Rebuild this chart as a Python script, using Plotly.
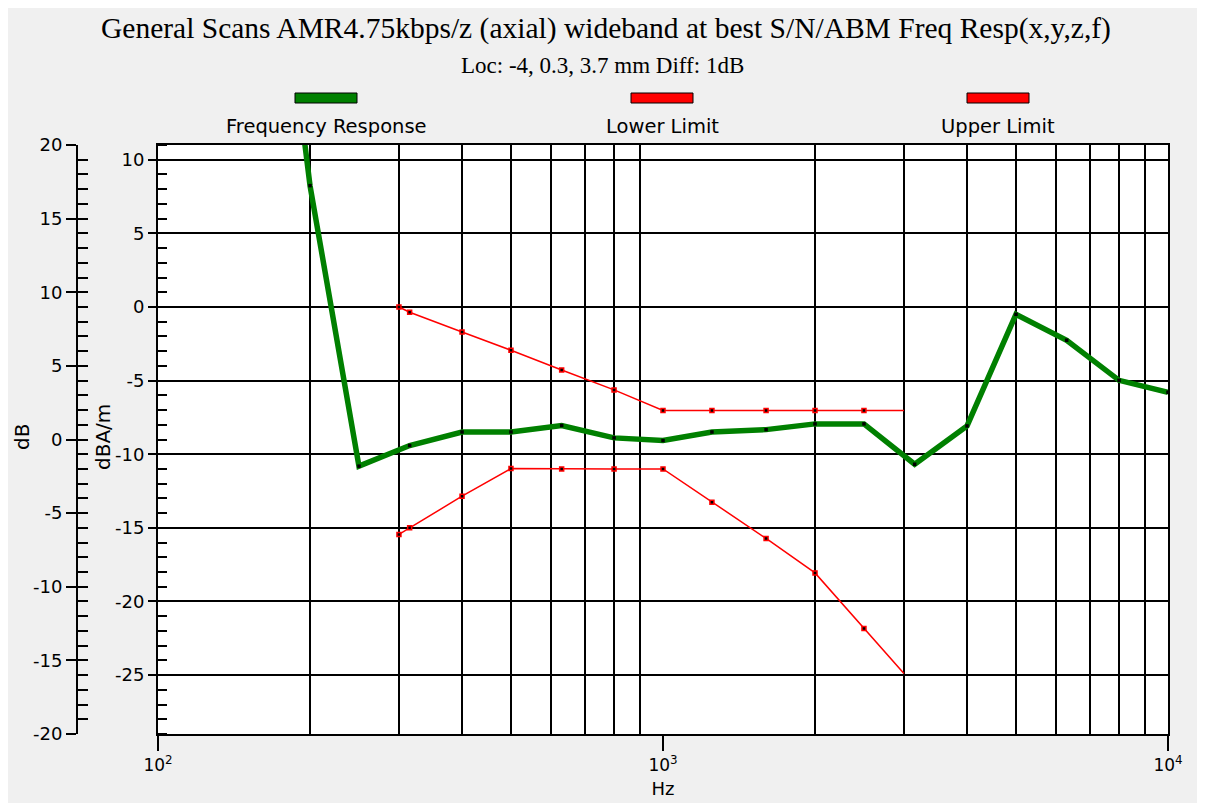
import plotly.graph_objects as go

# ---------------- data ----------------
series_names = ["Frequency Response", "Lower Limit", "Upper Limit"]

freq_resp_hz = [160, 200, 250, 315, 400, 500, 630, 800, 1000, 1250, 1600,
                2000, 2500, 3150, 4000, 5000, 6300, 8000, 10000]
freq_resp_val = [35.0, 8.24, -10.81, -9.41, -8.49, -8.49, -8.05, -8.89, -9.07,
                 -8.49, -8.33, -7.94, -7.94, -10.68, -8.08, -0.5, -2.26, -4.98, -5.79]

limit_hz = [300, 315, 400, 500, 630, 800, 1000, 1250, 1600, 2000, 2500, 3000]
lower_limit_val = [-15.45, -15.0, -12.85, -10.97, -11.0, -11.0, -11.0,
                   -13.26, -15.72, -18.06, -21.83, -24.89]
upper_limit_val = [0.0, -0.36, -1.7, -2.94, -4.28, -5.63, -7.03,
                   -7.03, -7.03, -7.03, -7.03, -7.03]

inner_ticks = [10, 5, 0, -5, -10, -15, -20, -25]          # dBA/m axis
outer_ticks = [20, 15, 10, 5, 0, -5, -10, -15, -20]       # dB axis
x_ticks = [100, 1000, 10000]
x_tick_text = ["10<sup>2</sup>", "10<sup>3</sup>", "10<sup>4</sup>"]
x_grid = [200, 300, 400, 500, 600, 700, 800, 900,
          2000, 3000, 4000, 5000, 6000, 7000, 8000, 9000]

title_text = "General Scans AMR4.75kbps/z (axial) wideband at best S/N/ABM Freq Resp(x,y,z,f)"
subtitle_text = "Loc: -4, 0.3, 3.7 mm Diff: 1dB"

GREEN = "#008000"
RED = "#ff0000"
BG = "#f0f0f0"

# ---------------- geometry helpers (window pixel -> paper) ----------------
OFF = 8                      # default body margin of the page
W, H = 1205 - OFF, 803 - OFF
ML, MR, MT, MB = 0, 1205 - 1168, 145 - OFF, 803 - 734
PW = W - ML - MR
PH = H - MT - MB


def px(x):
    return (x - OFF - ML) / PW


def py(y):
    return (H - MB - (y - OFF)) / PH


SANS = "DejaVu Sans, Verdana, sans-serif"
SERIF = "Liberation Serif, Times New Roman, serif"

fig = go.Figure()

# frequency response
fig.add_trace(go.Scatter(
    x=freq_resp_hz, y=freq_resp_val, name=series_names[0], mode="lines",
    line=dict(color=GREEN, width=5.5), showlegend=False))
fig.add_trace(go.Scatter(
    x=freq_resp_hz, y=freq_resp_val, mode="markers", name=series_names[0],
    marker=dict(color="black", size=3.5, symbol="square"),
    showlegend=False, hoverinfo="skip"))

# limits
for name, vals in [(series_names[1], lower_limit_val), (series_names[2], upper_limit_val)]:
    fig.add_trace(go.Scatter(
        x=limit_hz, y=vals, name=name, mode="lines",
        line=dict(color=RED, width=1.5), showlegend=False))
    fig.add_trace(go.Scatter(
        x=limit_hz[:-1], y=vals[:-1], mode="markers", name=name,
        marker=dict(color="black", size=4, symbol="square",
                    line=dict(color=RED, width=1.5)),
        showlegend=False, hoverinfo="skip"))

# empty traces so the overlay axes (grid + outer dB scale) get drawn
for xa, ya in [("x2", "y"), ("x", "y2"), ("x", "y3")]:
    fig.add_trace(go.Scatter(x=[None], y=[None], xaxis=xa, yaxis=ya,
                             mode="lines", showlegend=False, hoverinfo="skip"))

xdom = [px(158), 1.0]
outer_pos = px(77)

fig.update_layout(
    width=W, height=H,
    margin=dict(l=ML, r=MR, t=MT, b=MB),
    paper_bgcolor=BG, plot_bgcolor="white",
    font=dict(family=SANS, size=18, color="black"),
    title=dict(text=title_text, x=px(606), xanchor="center",
               y=1 - (28 - OFF) / H, yanchor="middle", yref="container", xref="paper",
               font=dict(family=SERIF, size=29.5, color="black")),
    xaxis=dict(type="log", range=[2, 4], domain=xdom, anchor="y",
               tickmode="array", tickvals=x_ticks, ticktext=x_tick_text,
               ticks="outside", ticklen=15, tickwidth=2, tickcolor="black",
               showgrid=False, zeroline=False,
               showline=True, linecolor="black", linewidth=2, mirror=True,
               tickfont=dict(size=17),
               title=dict(text="Hz", font=dict(size=18), standoff=8),
               automargin=False),
    xaxis2=dict(type="log", range=[2, 4], domain=xdom, anchor="y",
                overlaying="x", tickmode="array", tickvals=x_grid,
                showticklabels=False, ticks="", showgrid=True,
                gridcolor="black", gridwidth=2, showline=False,
                zeroline=False, automargin=False),
    yaxis=dict(range=[-29, 11], domain=[0, 1], anchor="x",
               tickmode="array", tickvals=inner_ticks,
               ticktext=[str(v) for v in inner_ticks],
               ticks="outside", ticklen=8, tickwidth=2, tickcolor="black",
               minor=dict(ticks="inside", ticklen=9, tickwidth=2,
                          tickcolor="black", dtick=1, tick0=0, showgrid=False),
               showgrid=True, gridcolor="black", gridwidth=2,
               zeroline=False, showline=True, linecolor="black",
               linewidth=2, mirror=True, tickfont=dict(size=18),
               automargin=False),
    yaxis2=dict(range=[-20, 20], overlaying="y", anchor="free",
                position=outer_pos, side="left",
                tickmode="array", tickvals=outer_ticks,
                ticktext=[str(v) for v in outer_ticks],
                ticks="outside", ticklen=10, tickwidth=2, tickcolor="black",
                showgrid=False, zeroline=False, showline=True,
                linecolor="black", linewidth=2, tickfont=dict(size=18),
                automargin=False),
    yaxis3=dict(range=[-20, 20], overlaying="y", anchor="free",
                position=outer_pos, side="left",
                tickmode="linear", tick0=0, dtick=1,
                ticks="inside", ticklen=10, tickwidth=2, tickcolor="black",
                showticklabels=False, showgrid=False, zeroline=False,
                showline=False, automargin=False),
)

annotations = [
    dict(text=subtitle_text, x=px(602), y=py(65), xref="paper", yref="paper",
         showarrow=False, xanchor="center", yanchor="middle",
         font=dict(family=SERIF, size=23, color="black")),
    dict(text="dB", x=px(22), y=py(437), xref="paper", yref="paper",
         showarrow=False, textangle=-90, xanchor="center", yanchor="middle",
         font=dict(size=20)),
    dict(text="dBA/m", x=px(103), y=py(437), xref="paper", yref="paper",
         showarrow=False, textangle=-90, xanchor="center", yanchor="middle",
         font=dict(size=20)),
]

# custom legend: swatch above label
legend_centers = [326, 662, 998]
legend_colors = [GREEN, RED, RED]
shapes = []
for name, cx, col in zip(series_names, legend_centers, legend_colors):
    shapes.append(dict(type="rect", xref="paper", yref="paper",
                       x0=px(cx - 31), x1=px(cx + 31), y0=py(103), y1=py(93),
                       fillcolor=col, line=dict(color="black", width=1)))
    annotations.append(dict(text=name, x=px(cx), y=py(127), xref="paper",
                            yref="paper", showarrow=False, xanchor="center",
                            yanchor="middle", font=dict(size=19.5)))

fig.update_layout(annotations=annotations, shapes=shapes)

fig.write_html("out.html")
